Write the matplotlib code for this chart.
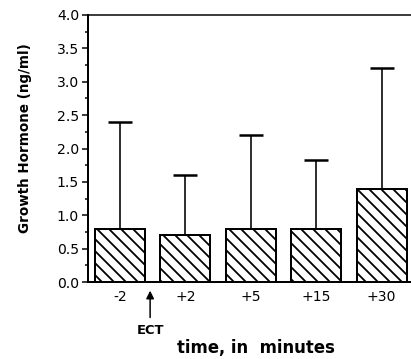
import matplotlib
matplotlib.use("Agg")
import matplotlib.pyplot as plt
import numpy as np

# values
times = ["-2", "+2", "+5", "+15", "+30"]
gh_mean = [0.8, 0.7, 0.8, 0.8, 1.4]
gh_top = [2.4, 1.6, 2.2, 1.83, 3.2]   # top of the error whisker
y_ticks = [0.0, 0.5, 1.0, 1.5, 2.0, 2.5, 3.0, 3.5, 4.0]

plt.rcParams['font.family'] = ['DejaVu Sans']
plt.rcParams['hatch.linewidth'] = 1.8
plt.rcParams['hatch.color'] = 'black'

DPI = 72
fig = plt.figure(figsize=(411 / DPI, 359 / DPI), dpi=DPI)
ax = fig.add_axes([88 / 411, 77 / 359, 1 - 88 / 411, 267 / 359])

x = np.arange(len(times))
means = np.array(gh_mean)
up = np.array(gh_top) - means

ax.bar(x, means, width=0.765, color='white', edgecolor='black',
       linewidth=2, hatch='\\\\', zorder=2)
_, caps, _ = ax.errorbar(x, means, yerr=[np.zeros_like(up), up], fmt='none',
                         ecolor='black', elinewidth=1.6, capsize=12,
                         capthick=2.5, zorder=1)
# hide the caps sitting on the bar tops
for c in caps:
    if np.allclose(c.get_ydata(), means):
        c.set_visible(False)

ax.set_xlim(-0.49, 4.45)
ax.set_ylim(0, 4.0)
ax.set_yticks(y_ticks)
ax.set_yticklabels([f"{v:.1f}" for v in y_ticks])
ax.set_yticks(np.arange(0, 4.01, 0.25), minor=True)
ax.set_xticks(x)
ax.set_xticklabels(times)

ax.tick_params(axis='y', which='major', length=6, width=1.5, labelsize=14, pad=3)
ax.tick_params(axis='y', which='minor', length=3, width=1.5)
ax.tick_params(axis='x', length=0, labelsize=14, pad=8)

ax.spines['right'].set_visible(False)
ax.spines['left'].set_linewidth(2)
ax.spines['bottom'].set_linewidth(2)
ax.spines['top'].set_linewidth(1.5)

# ECT marker between the first two bars
ax.annotate("ECT", xy=(0.46, -0.13), xytext=(0.46, -0.72),
            ha='center', va='center', fontsize=13, fontweight='bold',
            annotation_clip=False,
            arrowprops=dict(arrowstyle='-|>', color='black', lw=1.5,
                            mutation_scale=16, shrinkA=4, shrinkB=0))

fig.text(256 / 411, 1 - 348 / 359, "time, in  minutes", ha='center', va='center',
         fontsize=16.5, fontweight='bold')
fig.text(25 / 411, 1 - 138 / 359, "Growth Hormone (ng/ml)", ha='center', va='center',
         rotation=90, fontsize=13.5, fontweight='bold')

fig.savefig("out.png", dpi=DPI)
